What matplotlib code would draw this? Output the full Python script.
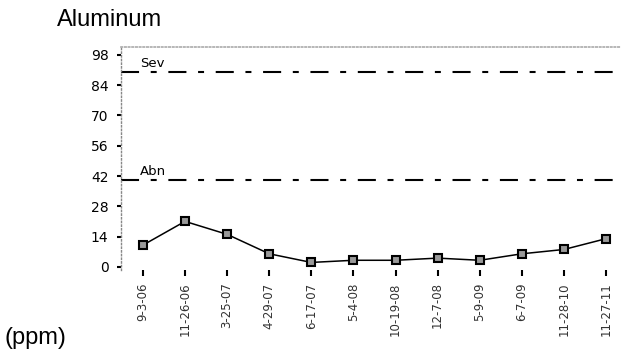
import matplotlib
matplotlib.use("Agg")
import matplotlib.pyplot as plt

plt.rcParams["lines.scale_dashes"] = False

dates = ["9-3-06", "11-26-06", "3-25-07", "4-29-07", "6-17-07", "5-4-08",
         "10-19-08", "12-7-08", "5-9-09", "6-7-09", "11-28-10", "11-27-11"]
aluminum = [10, 21, 15, 6, 2, 3, 3, 4, 3, 6, 8, 13]
yticks = [0, 14, 28, 42, 56, 70, 84, 98]
limits = {"Sev": 90, "Abn": 40}

fig = plt.figure(figsize=(6.23, 3.58), dpi=100, facecolor="white")
ax = fig.add_axes([121 / 623, 1 - 270 / 358, 499 / 623, 223 / 358])

x = list(range(len(dates)))
ax.plot(x, aluminum, color="black", lw=1.1, marker="s", markersize=6,
        markerfacecolor="#999999", markeredgecolor="black", markeredgewidth=1.5,
        zorder=3)

for name, value in limits.items():
    ax.axhline(value, color="black", lw=1.5, dashes=(13, 8.4, 4.3, 8.4))
    ax.annotate(name, xy=(0.038, value), xycoords=("axes fraction", "data"),
                xytext=(0, 2), textcoords="offset points",
                ha="left", va="bottom", fontsize=9.5, color="black")

ax.set_xlim(-0.52, 11.33)
ax.set_ylim(-1.5, 101.7)
ax.set_yticks(yticks)
ax.set_yticklabels([str(v) for v in yticks], fontsize=10)
ax.set_xticks(x)
ax.set_xticklabels(dates, rotation=90, fontsize=8.5, color="#333333")
ax.tick_params(axis="y", direction="out", length=3, width=1.5, pad=6)
ax.tick_params(axis="x", direction="out", length=4, width=1.5, pad=5)

for side in ("right", "bottom"):
    ax.spines[side].set_visible(False)
ax.spines["left"].set_color("#888888")
ax.spines["left"].set_linestyle(":")
ax.spines["left"].set_linewidth(1.0)
ax.spines["top"].set_color("#aaaaaa")
ax.spines["top"].set_linestyle(":")
ax.spines["top"].set_linewidth(1.2)

fig.text(57 / 623, 1 - 26 / 358, "Aluminum", fontsize=17, family="Liberation Sans",
         ha="left", va="baseline")
fig.text(4 / 623, 1 - 344 / 358, "(ppm)", fontsize=17, family="Liberation Sans",
         ha="left", va="baseline")

fig.savefig("out.png", dpi=100, facecolor="white")
